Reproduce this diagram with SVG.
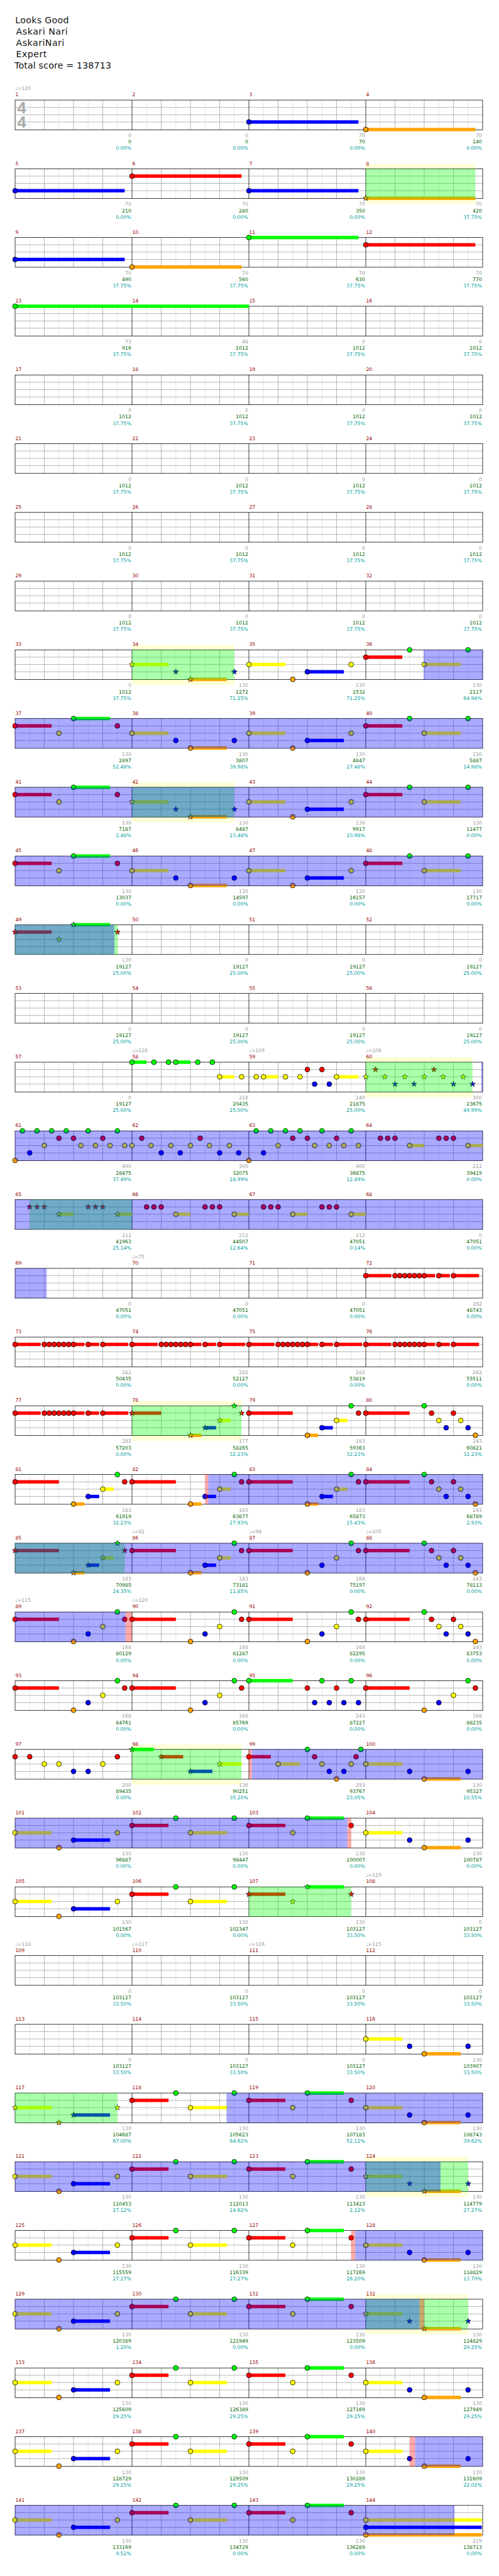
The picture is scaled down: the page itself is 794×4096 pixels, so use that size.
<svg xmlns="http://www.w3.org/2000/svg" xmlns:xlink="http://www.w3.org/1999/xlink" width="794" height="4096" viewBox="0 0 794 4096">
<style>
text{font-family:"DejaVu Sans","Liberation Sans",sans-serif}
.h{font-size:18.3px;fill:#111}
.ts{font-family:"Liberation Sans",Arial,sans-serif;font-weight:bold;font-size:33px;fill:#aaa}
.m{font-size:10px;fill:#960000}
.a,.c,.p{font-size:10px;text-anchor:end}
.a{fill:#999}.c{fill:#006400}.p{fill:#00a0a0}
.t{font-size:10px;fill:#999}
.g{fill:#0f0}.r{fill:#f00}.y{fill:#ff0}.b{fill:#00f}.o{fill:#ffa500}
circle{stroke:#000;stroke-width:1}
.ob{fill:#00f;fill-opacity:.333}
.og{fill:#0f0;fill-opacity:.333}
.op{fill:#f00;fill-opacity:.333}
.bd{fill:#ffffd5}
</style>
<defs>
<g id="grid">
<rect width="960" height="61" fill="#fff"/>
<path d="M30 0v61M90 0v61M150 0v61M210 0v61M270 0v61M330 0v61M390 0v61M450 0v61M510 0v61M570 0v61M630 0v61M690 0v61M750 0v61M810 0v61M870 0v61M930 0v61" stroke="#ddd"/>
<path d="M0 15h960M0 30h960M0 45h960M60 0v61M120 0v61M180 0v61M300 0v61M360 0v61M420 0v61M540 0v61M600 0v61M660 0v61M780 0v61M840 0v61M900 0v61" stroke="#a0a0a0"/>
<path d="M240 0v61M480 0v61M720 0v61" stroke="#000"/>
<rect width="960" height="61" fill="none" stroke="#000"/>
</g>
<path id="st" d="M0-6L1.47-2.02L5.71-1.85L2.38.77L3.53 4.85L0 2.5L-3.53 4.85L-2.38.77L-5.71-1.85L-1.47-2.02Z" stroke="#000" stroke-width=".8"/>
<g id="A"><rect class="r" y="11.5" width="75" height="7"/><rect class="g" x="120" y="-3.5" width="75" height="7"/><circle class="r" cy="15" r="5"/><circle class="y" cx="90" cy="30" r="5"/><circle class="g" cx="120" r="5"/><circle class="r" cx="210" cy="15" r="5"/></g>
<g id="As"><rect class="r" y="11.5" width="75" height="7"/><rect class="g" x="120" y="-3.5" width="75" height="7"/><use href="#st" class="r" y="15"/><use href="#st" class="y" x="90" y="30"/><use href="#st" class="g" x="120"/><use href="#st" class="r" x="210" y="15"/></g>
<g id="B"><rect class="y" y="26.5" width="75" height="7"/><rect class="o" x="120" y="57" width="75" height="7"/><circle class="y" cy="30" r="5"/><circle class="b" cx="90" cy="45" r="5"/><circle class="o" cx="120" cy="60.5" r="5"/><circle class="b" cx="210" cy="45" r="5"/></g>
<g id="Bs"><rect class="y" y="26.5" width="75" height="7"/><rect class="o" x="120" y="57" width="75" height="7"/><use href="#st" class="y" y="30"/><use href="#st" class="b" x="90" y="45"/><use href="#st" class="o" x="120" y="60.5"/><use href="#st" class="b" x="210" y="45"/></g>
<g id="C"><rect class="y" y="26.5" width="75" height="7"/><rect class="b" x="120" y="41.5" width="75" height="7"/><circle class="y" cy="30" r="5"/><circle class="o" cx="90" cy="60.5" r="5"/><circle class="b" cx="120" cy="45" r="5"/><circle class="y" cx="210" cy="30" r="5"/></g>
<g id="Cs"><rect class="y" y="26.5" width="75" height="7"/><rect class="b" x="120" y="41.5" width="75" height="7"/><use href="#st" class="y" y="30"/><use href="#st" class="o" x="90" y="60.5"/><use href="#st" class="b" x="120" y="45"/><use href="#st" class="y" x="210" y="30"/></g>
<g id="D"><rect class="r" y="11.5" width="75" height="7"/><rect class="y" x="120" y="26.5" width="75" height="7"/><circle class="r" cy="15" r="5"/><circle class="g" cx="90" r="5"/><circle class="y" cx="120" cy="30" r="5"/><circle class="g" cx="210" r="5"/></g>
<g id="E1"><circle class="r" cy="15" r="5"/><circle class="o" cx="120" cy="60.5" r="5"/><circle class="b" cx="150" cy="45" r="5"/><circle class="y" cx="180" cy="30" r="5"/><circle class="g" cx="210" r="5"/><circle class="r" cx="225" cy="15" r="5"/></g>
<g id="E2"><rect class="r" y="11.5" width="90" height="7"/><use href="#E1"/></g>
<g id="E"><rect class="r" y="11.5" width="90" height="7"/><rect class="o" x="120" y="57" width="22.5" height="7"/><rect class="b" x="150" y="41.5" width="22.5" height="7"/><rect class="y" x="180" y="26.5" width="22.5" height="7"/><use href="#E1"/></g>
<g id="Es"><rect class="r" y="11.5" width="90" height="7"/><rect class="o" x="120" y="57" width="22.5" height="7"/><rect class="b" x="150" y="41.5" width="22.5" height="7"/><rect class="y" x="180" y="26.5" width="22.5" height="7"/><use href="#st" class="r" y="15"/><use href="#st" class="o" x="120" y="60.5"/><use href="#st" class="b" x="150" y="45"/><use href="#st" class="y" x="180" y="30"/><use href="#st" class="g" x="210"/><use href="#st" class="r" x="225" y="15"/></g>
<g id="F"><rect class="r" y="11.5" width="90" height="7"/><circle class="r" cy="15" r="5"/><circle class="g" cx="120" r="5"/><circle class="r" cx="135" cy="15" r="5"/><circle class="y" cx="150" cy="30" r="5"/><circle class="b" cx="165" cy="45" r="5"/><circle class="r" cx="180" cy="15" r="5"/><circle class="y" cx="195" cy="30" r="5"/><circle class="b" cx="210" cy="45" r="5"/><circle class="o" cx="225" cy="60.5" r="5"/></g>
<g id="T"><rect class="r" y="11.5" width="52.5" height="7"/><rect class="r" x="120" y="11.5" width="22.5" height="7"/><rect class="r" x="150" y="11.5" width="22.5" height="7"/><rect class="r" x="180" y="11.5" width="52.5" height="7"/><circle class="r" cy="15" r="5"/><circle class="r" cx="60" cy="15" r="5"/><circle class="r" cx="70" cy="15" r="5"/><circle class="r" cx="80" cy="15" r="5"/><circle class="r" cx="90" cy="15" r="5"/><circle class="r" cx="100" cy="15" r="5"/><circle class="r" cx="110" cy="15" r="5"/><circle class="r" cx="120" cy="15" r="5"/><circle class="r" cx="150" cy="15" r="5"/><circle class="r" cx="180" cy="15" r="5"/></g>
<g id="G"><circle class="o" cy="60.5" r="5"/><circle class="g" cx="15" r="5"/><circle class="g" cx="45" r="5"/><circle class="g" cx="75" r="5"/><circle class="g" cx="105" r="5"/><circle class="g" cx="150" r="5"/><circle class="g" cx="210" r="5"/><circle class="r" cx="90" cy="15" r="5"/><circle class="r" cx="120" cy="15" r="5"/><circle class="r" cx="180" cy="15" r="5"/><circle class="y" cx="60" cy="30" r="5"/><circle class="y" cx="135" cy="30" r="5"/><circle class="y" cx="165" cy="30" r="5"/><circle class="y" cx="195" cy="30" r="5"/><circle class="y" cx="225" cy="30" r="5"/><circle class="b" cx="30" cy="45" r="5"/></g>
<g id="H"><rect class="y" x="90" y="26.5" width="30" height="7"/><rect class="y" x="210" y="26.5" width="30" height="7"/><circle class="r" cx="30" cy="15" r="5"/><circle class="r" cx="45" cy="15" r="5"/><circle class="r" cx="60" cy="15" r="5"/><circle class="r" cx="150" cy="15" r="5"/><circle class="r" cx="165" cy="15" r="5"/><circle class="r" cx="180" cy="15" r="5"/><circle class="y" cx="90" cy="30" r="5"/><circle class="y" cx="210" cy="30" r="5"/></g>
</defs>
<g transform="scale(0.775)">
<rect width="1024" height="5281" fill="#fff"/>
<g id="header">
<text class="h" x="31.3" y="48.3" textLength="110">Looks Good</text>
<text class="h" x="33" y="71" textLength="106">Askari Nari</text>
<text class="h" x="33" y="94.3" textLength="99">AskariNari</text>
<text class="h" x="33" y="117.7" textLength="63">Expert</text>
<text class="h" x="29.7" y="140.7" textLength="198.6">Total score = 138713</text>
</g>

<g id="row1" transform="translate(31,205.3)"><use href="#grid"/><text class="ts" x="4.5" y="27">4</text><text class="ts" x="4.5" y="57">4</text>
<rect class="b" x="480" y="41.5" width="225" height="7"/><rect class="o" x="720" y="57" width="225" height="7"/><circle class="b" cx="480" cy="45" r="5"/><circle class="o" cx="720" cy="60.5" r="5"/>
<text class="t" y="-20.6">♩=120</text>
<text class="m" y="-7.6"><tspan x=".5">1</tspan><tspan x="240.5">2</tspan><tspan x="480.5">3</tspan><tspan x="720.5">4</tspan></text>
<text class="a" y="76.2"><tspan x="238.5">0</tspan><tspan x="478.5">0</tspan><tspan x="718.5">70</tspan><tspan x="958.5">70</tspan></text>
<text class="c" y="89.4"><tspan x="238.5">0</tspan><tspan x="478.5">0</tspan><tspan x="718.5">70</tspan><tspan x="958.5">140</tspan></text>
<text class="p" y="102.4"><tspan x="238.5">0.00%</tspan><tspan x="478.5">0.00%</tspan><tspan x="718.5">0.00%</tspan><tspan x="958.5">0.00%</tspan></text></g>

<g id="row2" transform="translate(31,346.3)"><rect class="bd" x="720" y="-10" width="225" height="82"/><use href="#grid"/>
<rect class="b" y="41.5" width="225" height="7"/><rect class="r" x="240" y="11.5" width="225" height="7"/><rect class="b" x="480" y="41.5" width="225" height="7"/><rect class="o" x="720" y="57" width="225" height="7"/>
<circle class="b" cy="45" r="5"/><circle class="r" cx="240" cy="15" r="5"/><circle class="b" cx="480" cy="45" r="5"/><use href="#st" class="o" x="720" y="60.5"/>
<rect class="og" x="720" width="225" height="61"/>
<text class="m" y="-7.6"><tspan x=".5">5</tspan><tspan x="240.5">6</tspan><tspan x="480.5">7</tspan><tspan x="720.5">8</tspan></text>
<text class="a" y="76.2"><tspan x="238.5">70</tspan><tspan x="478.5">70</tspan><tspan x="718.5">70</tspan><tspan x="958.5">70</tspan></text>
<text class="c" y="89.4"><tspan x="238.5">210</tspan><tspan x="478.5">280</tspan><tspan x="718.5">350</tspan><tspan x="958.5">420</tspan></text>
<text class="p" y="102.4"><tspan x="238.5">0.00%</tspan><tspan x="478.5">0.00%</tspan><tspan x="718.5">0.00%</tspan><tspan x="958.5">37.75%</tspan></text></g>

<g id="row3" transform="translate(31,487.3)"><use href="#grid"/>
<rect class="b" y="41.5" width="225" height="7"/><rect class="o" x="240" y="57" width="225" height="7"/><rect class="g" x="480" y="-3.5" width="225" height="7"/><rect class="r" x="720" y="11.5" width="225" height="7"/>
<circle class="b" cy="45" r="5"/><circle class="o" cx="240" cy="60.5" r="5"/><circle class="g" cx="480" r="5"/><circle class="r" cx="720" cy="15" r="5"/>
<text class="m" y="-7.6"><tspan x=".5">9</tspan><tspan x="240.5">10</tspan><tspan x="480.5">11</tspan><tspan x="720.5">12</tspan></text>
<text class="a" y="76.2"><tspan x="238.5">70</tspan><tspan x="478.5">70</tspan><tspan x="718.5">70</tspan><tspan x="958.5">70</tspan></text>
<text class="c" y="89.4"><tspan x="238.5">490</tspan><tspan x="478.5">560</tspan><tspan x="718.5">630</tspan><tspan x="958.5">770</tspan></text>
<text class="p" y="102.4"><tspan x="238.5">37.75%</tspan><tspan x="478.5">37.75%</tspan><tspan x="718.5">37.75%</tspan><tspan x="958.5">37.75%</tspan></text></g>

<g id="row4" transform="translate(31,628.3)"><use href="#grid"/>
<rect class="g" y="-3.5" width="480" height="7"/><circle class="g" r="5"/>
<text class="m" y="-7.6"><tspan x=".5">13</tspan><tspan x="240.5">14</tspan><tspan x="480.5">15</tspan><tspan x="720.5">16</tspan></text>
<text class="a" y="76.2"><tspan x="238.5">73</tspan><tspan x="478.5">48</tspan><tspan x="718.5">0</tspan><tspan x="958.5">0</tspan></text>
<text class="c" y="89.4"><tspan x="238.5">916</tspan><tspan x="478.5">1012</tspan><tspan x="718.5">1012</tspan><tspan x="958.5">1012</tspan></text>
<text class="p" y="102.4"><tspan x="238.5">37.75%</tspan><tspan x="478.5">37.75%</tspan><tspan x="718.5">37.75%</tspan><tspan x="958.5">37.75%</tspan></text></g>

<g id="row5" transform="translate(31,769.3)"><use href="#grid"/>
<text class="m" y="-7.6"><tspan x=".5">17</tspan><tspan x="240.5">18</tspan><tspan x="480.5">19</tspan><tspan x="720.5">20</tspan></text>
<text class="a" y="76.2"><tspan x="238.5">0</tspan><tspan x="478.5">0</tspan><tspan x="718.5">0</tspan><tspan x="958.5">0</tspan></text>
<text class="c" y="89.4"><tspan x="238.5">1012</tspan><tspan x="478.5">1012</tspan><tspan x="718.5">1012</tspan><tspan x="958.5">1012</tspan></text>
<text class="p" y="102.4"><tspan x="238.5">37.75%</tspan><tspan x="478.5">37.75%</tspan><tspan x="718.5">37.75%</tspan><tspan x="958.5">37.75%</tspan></text></g>

<g id="row6" transform="translate(31,910.3)"><use href="#grid"/>
<text class="m" y="-7.6"><tspan x=".5">21</tspan><tspan x="240.5">22</tspan><tspan x="480.5">23</tspan><tspan x="720.5">24</tspan></text>
<text class="a" y="76.2"><tspan x="238.5">0</tspan><tspan x="478.5">0</tspan><tspan x="718.5">0</tspan><tspan x="958.5">0</tspan></text>
<text class="c" y="89.4"><tspan x="238.5">1012</tspan><tspan x="478.5">1012</tspan><tspan x="718.5">1012</tspan><tspan x="958.5">1012</tspan></text>
<text class="p" y="102.4"><tspan x="238.5">37.75%</tspan><tspan x="478.5">37.75%</tspan><tspan x="718.5">37.75%</tspan><tspan x="958.5">37.75%</tspan></text></g>

<g id="row7" transform="translate(31,1051.3)"><use href="#grid"/>
<text class="m" y="-7.6"><tspan x=".5">25</tspan><tspan x="240.5">26</tspan><tspan x="480.5">27</tspan><tspan x="720.5">28</tspan></text>
<text class="a" y="76.2"><tspan x="238.5">0</tspan><tspan x="478.5">0</tspan><tspan x="718.5">0</tspan><tspan x="958.5">0</tspan></text>
<text class="c" y="89.4"><tspan x="238.5">1012</tspan><tspan x="478.5">1012</tspan><tspan x="718.5">1012</tspan><tspan x="958.5">1012</tspan></text>
<text class="p" y="102.4"><tspan x="238.5">37.75%</tspan><tspan x="478.5">37.75%</tspan><tspan x="718.5">37.75%</tspan><tspan x="958.5">37.75%</tspan></text></g>

<g id="row8" transform="translate(31,1192.3)"><use href="#grid"/>
<text class="m" y="-7.6"><tspan x=".5">29</tspan><tspan x="240.5">30</tspan><tspan x="480.5">31</tspan><tspan x="720.5">32</tspan></text>
<text class="a" y="76.2"><tspan x="238.5">0</tspan><tspan x="478.5">0</tspan><tspan x="718.5">0</tspan><tspan x="958.5">0</tspan></text>
<text class="c" y="89.4"><tspan x="238.5">1012</tspan><tspan x="478.5">1012</tspan><tspan x="718.5">1012</tspan><tspan x="958.5">1012</tspan></text>
<text class="p" y="102.4"><tspan x="238.5">37.75%</tspan><tspan x="478.5">37.75%</tspan><tspan x="718.5">37.75%</tspan><tspan x="958.5">37.75%</tspan></text></g>

<g id="row9" transform="translate(31,1333.3)"><rect class="bd" x="240" y="-10" width="210" height="82"/><use href="#grid"/>
<use href="#Bs" x="240"/><use href="#C" x="480"/><use href="#D" x="720"/>
<rect class="og" x="240" width="210" height="61"/><rect class="ob" x="838.8" width="121.2" height="61"/>
<text class="m" y="-7.6"><tspan x=".5">33</tspan><tspan x="240.5">34</tspan><tspan x="480.5">35</tspan><tspan x="720.5">36</tspan></text>
<text class="a" y="76.2"><tspan x="238.5">0</tspan><tspan x="478.5">130</tspan><tspan x="718.5">130</tspan><tspan x="958.5">130</tspan></text>
<text class="c" y="89.4"><tspan x="238.5">1012</tspan><tspan x="478.5">1272</tspan><tspan x="718.5">1532</tspan><tspan x="958.5">2117</tspan></text>
<text class="p" y="102.4"><tspan x="238.5">37.75%</tspan><tspan x="478.5">71.25%</tspan><tspan x="718.5">71.25%</tspan><tspan x="958.5">64.98%</tspan></text></g>

<g id="row10" transform="translate(31,1474.3)"><use href="#grid"/>
<use href="#A"/><use href="#B" x="240"/><use href="#C" x="480"/><use href="#D" x="720"/>
<rect class="ob" width="960" height="61"/>
<text class="m" y="-7.6"><tspan x=".5">37</tspan><tspan x="240.5">38</tspan><tspan x="480.5">39</tspan><tspan x="720.5">40</tspan></text>
<text class="a" y="76.2"><tspan x="238.5">130</tspan><tspan x="478.5">130</tspan><tspan x="718.5">130</tspan><tspan x="958.5">130</tspan></text>
<text class="c" y="89.4"><tspan x="238.5">2897</tspan><tspan x="478.5">3807</tspan><tspan x="718.5">4847</tspan><tspan x="958.5">5887</tspan></text>
<text class="p" y="102.4"><tspan x="238.5">52.48%</tspan><tspan x="478.5">39.98%</tspan><tspan x="718.5">27.48%</tspan><tspan x="958.5">14.98%</tspan></text></g>

<g id="row11" transform="translate(31,1615.3)"><rect class="bd" x="240" y="-10" width="210" height="82"/><use href="#grid"/>
<use href="#A"/><use href="#Bs" x="240"/><use href="#C" x="480"/><use href="#D" x="720"/>
<rect class="og" x="240" width="210" height="61"/><rect class="ob" width="960" height="61"/>
<text class="m" y="-7.6"><tspan x=".5">41</tspan><tspan x="240.5">42</tspan><tspan x="480.5">43</tspan><tspan x="720.5">44</tspan></text>
<text class="a" y="76.2"><tspan x="238.5">130</tspan><tspan x="478.5">130</tspan><tspan x="718.5">130</tspan><tspan x="958.5">130</tspan></text>
<text class="c" y="89.4"><tspan x="238.5">7187</tspan><tspan x="478.5">8487</tspan><tspan x="718.5">9917</tspan><tspan x="958.5">11477</tspan></text>
<text class="p" y="102.4"><tspan x="238.5">2.48%</tspan><tspan x="478.5">23.48%</tspan><tspan x="718.5">10.98%</tspan><tspan x="958.5">0.00%</tspan></text></g>

<g id="row12" transform="translate(31,1756.3)"><use href="#grid"/>
<use href="#A"/><use href="#B" x="240"/><use href="#C" x="480"/><use href="#D" x="720"/>
<rect class="ob" width="960" height="61"/>
<text class="m" y="-7.6"><tspan x=".5">45</tspan><tspan x="240.5">46</tspan><tspan x="480.5">47</tspan><tspan x="720.5">48</tspan></text>
<text class="a" y="76.2"><tspan x="238.5">130</tspan><tspan x="478.5">130</tspan><tspan x="718.5">130</tspan><tspan x="958.5">130</tspan></text>
<text class="c" y="89.4"><tspan x="238.5">13037</tspan><tspan x="478.5">14597</tspan><tspan x="718.5">16157</tspan><tspan x="958.5">17717</tspan></text>
<text class="p" y="102.4"><tspan x="238.5">0.00%</tspan><tspan x="478.5">0.00%</tspan><tspan x="718.5">0.00%</tspan><tspan x="958.5">0.00%</tspan></text></g>

<g id="row13" transform="translate(31,1897.3)"><use href="#grid"/>
<use href="#As"/>
<rect class="og" width="210.6" height="61"/><rect class="ob" width="204" height="61"/>
<text class="m" y="-7.6"><tspan x=".5">49</tspan><tspan x="240.5">50</tspan><tspan x="480.5">51</tspan><tspan x="720.5">52</tspan></text>
<text class="a" y="76.2"><tspan x="238.5">130</tspan><tspan x="478.5">0</tspan><tspan x="718.5">0</tspan><tspan x="958.5">0</tspan></text>
<text class="c" y="89.4"><tspan x="238.5">19127</tspan><tspan x="478.5">19127</tspan><tspan x="718.5">19127</tspan><tspan x="958.5">19127</tspan></text>
<text class="p" y="102.4"><tspan x="238.5">25.00%</tspan><tspan x="478.5">25.00%</tspan><tspan x="718.5">25.00%</tspan><tspan x="958.5">25.00%</tspan></text></g>

<g id="row14" transform="translate(31,2038.3)"><use href="#grid"/>
<text class="m" y="-7.6"><tspan x=".5">53</tspan><tspan x="240.5">54</tspan><tspan x="480.5">55</tspan><tspan x="720.5">56</tspan></text>
<text class="a" y="76.2"><tspan x="238.5">0</tspan><tspan x="478.5">0</tspan><tspan x="718.5">0</tspan><tspan x="958.5">0</tspan></text>
<text class="c" y="89.4"><tspan x="238.5">19127</tspan><tspan x="478.5">19127</tspan><tspan x="718.5">19127</tspan><tspan x="958.5">19127</tspan></text>
<text class="p" y="102.4"><tspan x="238.5">25.00%</tspan><tspan x="478.5">25.00%</tspan><tspan x="718.5">25.00%</tspan><tspan x="958.5">25.00%</tspan></text></g>

<g id="row15" transform="translate(31,2179.3)"><rect class="bd" x="720" y="-10" width="219" height="82"/><use href="#grid"/>
<rect class="g" x="240" y="-3.5" width="30" height="7"/><rect class="g" x="330" y="-3.5" width="30" height="7"/><rect class="y" x="420" y="26.5" width="30" height="7"/><rect class="y" x="510" y="26.5" width="30" height="7"/><rect class="y" x="660" y="26.5" width="45" height="7"/>
<circle class="g" cx="240" r="5"/><circle class="g" cx="285" r="5"/><circle class="g" cx="315" r="5"/><circle class="g" cx="330" r="5"/><circle class="g" cx="375" r="5"/><circle class="g" cx="405" r="5"/>
<circle class="y" cx="420" cy="30" r="5"/><circle class="y" cx="465" cy="30" r="5"/><circle class="y" cx="495" cy="30" r="5"/><circle class="y" cx="510" cy="30" r="5"/><circle class="y" cx="555" cy="30" r="5"/><circle class="y" cx="585" cy="30" r="5"/><circle class="y" cx="660" cy="30" r="5"/>
<circle class="r" cx="600" cy="15" r="5"/><circle class="r" cx="630" cy="15" r="5"/><circle class="b" cx="615" cy="45" r="5"/><circle class="b" cx="645" cy="45" r="5"/>
<use href="#st" class="y" x="720" y="30"/><use href="#st" class="r" x="740" y="15"/><use href="#st" class="y" x="759" y="30"/><use href="#st" class="b" x="780" y="45"/><use href="#st" class="y" x="800" y="30"/><use href="#st" class="b" x="819" y="45"/><use href="#st" class="y" x="840" y="30"/><use href="#st" class="r" x="860" y="15"/><use href="#st" class="y" x="879" y="30"/><use href="#st" class="b" x="900" y="45"/><use href="#st" class="y" x="920" y="30"/><use href="#st" class="b" x="939" y="45"/>
<rect class="og" x="720" width="219" height="61"/><rect class="ob" x="957" width="3" height="61"/>
<text class="t" y="-20.6"><tspan x="240">♩=116</tspan><tspan x="480">♩=109</tspan><tspan x="720">♩=106</tspan></text>
<text class="m" y="-7.6"><tspan x=".5">57</tspan><tspan x="240.5">58</tspan><tspan x="480.5">59</tspan><tspan x="720.5">60</tspan></text>
<text class="a" y="76.2"><tspan x="238.5">0</tspan><tspan x="478.5">218</tspan><tspan x="718.5">240</tspan><tspan x="958.5">300</tspan></text>
<text class="c" y="89.4"><tspan x="238.5">19127</tspan><tspan x="478.5">20435</tspan><tspan x="718.5">21875</tspan><tspan x="958.5">23675</tspan></text>
<text class="p" y="102.4"><tspan x="238.5">25.00%</tspan><tspan x="478.5">25.00%</tspan><tspan x="718.5">25.00%</tspan><tspan x="958.5">49.99%</tspan></text></g>

<g id="row16" transform="translate(31,2320.3)"><use href="#grid"/>
<use href="#G"/><use href="#G" x="480"/>
<circle class="y" cx="240" cy="30" r="5"/><circle class="r" cx="260" cy="15" r="5"/><circle class="y" cx="279" cy="30" r="5"/><circle class="b" cx="300" cy="45" r="5"/><circle class="y" cx="320" cy="30" r="5"/><circle class="b" cx="339" cy="45" r="5"/><circle class="y" cx="360" cy="30" r="5"/><circle class="r" cx="380" cy="15" r="5"/><circle class="y" cx="399" cy="30" r="5"/><circle class="b" cx="420" cy="45" r="5"/><circle class="y" cx="440" cy="30" r="5"/><circle class="b" cx="459" cy="45" r="5"/>
<rect class="y" x="810" y="26.5" width="30" height="7"/><rect class="y" x="930" y="26.5" width="30" height="7"/>
<circle class="r" cx="750" cy="15" r="5"/><circle class="r" cx="765" cy="15" r="5"/><circle class="r" cx="780" cy="15" r="5"/><circle class="r" cx="870" cy="15" r="5"/><circle class="r" cx="885" cy="15" r="5"/><circle class="r" cx="900" cy="15" r="5"/><circle class="y" cx="810" cy="30" r="5"/><circle class="y" cx="930" cy="30" r="5"/>
<rect class="ob" width="960" height="61"/>
<text class="m" y="-7.6"><tspan x=".5">61</tspan><tspan x="240.5">62</tspan><tspan x="480.5">63</tspan><tspan x="720.5">64</tspan></text>
<text class="a" y="76.2"><tspan x="238.5">400</tspan><tspan x="478.5">300</tspan><tspan x="718.5">400</tspan><tspan x="958.5">212</tspan></text>
<text class="c" y="89.4"><tspan x="238.5">28475</tspan><tspan x="478.5">32075</tspan><tspan x="718.5">36875</tspan><tspan x="958.5">39419</tspan></text>
<text class="p" y="102.4"><tspan x="238.5">37.49%</tspan><tspan x="478.5">24.99%</tspan><tspan x="718.5">12.49%</tspan><tspan x="958.5">0.00%</tspan></text></g>

<g id="row17" transform="translate(31,2461.3)"><use href="#grid"/>
<rect class="y" x="90" y="26.5" width="30" height="7"/><rect class="y" x="210" y="26.5" width="30" height="7"/>
<use href="#st" class="r" x="30" y="15"/><use href="#st" class="r" x="45" y="15"/><use href="#st" class="r" x="60" y="15"/><use href="#st" class="y" x="90" y="30"/><use href="#st" class="r" x="150" y="15"/><use href="#st" class="r" x="165" y="15"/><use href="#st" class="r" x="180" y="15"/><use href="#st" class="y" x="210" y="30"/>
<use href="#H" x="240"/><use href="#H" x="480"/>
<rect class="og" x="30" width="210" height="61"/><rect class="ob" width="960" height="61"/>
<text class="m" y="-7.6"><tspan x=".5">65</tspan><tspan x="240.5">66</tspan><tspan x="480.5">67</tspan><tspan x="720.5">68</tspan></text>
<text class="a" y="76.2"><tspan x="238.5">212</tspan><tspan x="478.5">212</tspan><tspan x="718.5">212</tspan><tspan x="958.5">0</tspan></text>
<text class="c" y="89.4"><tspan x="238.5">41963</tspan><tspan x="478.5">44507</tspan><tspan x="718.5">47051</tspan><tspan x="958.5">47051</tspan></text>
<text class="p" y="102.4"><tspan x="238.5">25.14%</tspan><tspan x="478.5">12.64%</tspan><tspan x="718.5">0.14%</tspan><tspan x="958.5">0.00%</tspan></text></g>

<g id="row18" transform="translate(31,2602.3)"><use href="#grid"/>
<use href="#T" x="720"/>
<rect class="ob" width="65" height="61"/>
<text class="t" y="-20.6"><tspan x="240">♩=75</tspan></text>
<text class="m" y="-7.6"><tspan x=".5">69</tspan><tspan x="240.5">70</tspan><tspan x="480.5">71</tspan><tspan x="720.5">72</tspan></text>
<text class="a" y="76.2"><tspan x="238.5">0</tspan><tspan x="478.5">0</tspan><tspan x="718.5">0</tspan><tspan x="958.5">282</tspan></text>
<text class="c" y="89.4"><tspan x="238.5">47051</tspan><tspan x="478.5">47051</tspan><tspan x="718.5">47051</tspan><tspan x="958.5">48743</tspan></text>
<text class="p" y="102.4"><tspan x="238.5">0.00%</tspan><tspan x="478.5">0.00%</tspan><tspan x="718.5">0.00%</tspan><tspan x="958.5">0.00%</tspan></text></g>

<g id="row19" transform="translate(31,2743.3)"><use href="#grid"/>
<use href="#T"/><use href="#T" x="240"/><use href="#T" x="480"/><use href="#T" x="720"/>
<text class="m" y="-7.6"><tspan x=".5">73</tspan><tspan x="240.5">74</tspan><tspan x="480.5">75</tspan><tspan x="720.5">76</tspan></text>
<text class="a" y="76.2"><tspan x="238.5">282</tspan><tspan x="478.5">282</tspan><tspan x="718.5">282</tspan><tspan x="958.5">282</tspan></text>
<text class="c" y="89.4"><tspan x="238.5">50435</tspan><tspan x="478.5">52127</tspan><tspan x="718.5">53819</tspan><tspan x="958.5">55511</tspan></text>
<text class="p" y="102.4"><tspan x="238.5">0.00%</tspan><tspan x="478.5">0.00%</tspan><tspan x="718.5">0.00%</tspan><tspan x="958.5">0.00%</tspan></text></g>

<g id="row20" transform="translate(31,2884.3)"><rect class="bd" x="240" y="-10" width="225" height="82"/><use href="#grid"/>
<use href="#T"/>
<rect class="r" x="240" y="11.5" width="60" height="7"/><rect class="o" x="360" y="57" width="22.5" height="7"/><rect class="b" x="390" y="41.5" width="22.5" height="7"/><rect class="y" x="420" y="26.5" width="22.5" height="7"/>
<use href="#st" class="r" x="240" y="15"/><use href="#st" class="o" x="360" y="60.5"/><use href="#st" class="b" x="390" y="45"/><use href="#st" class="y" x="420" y="30"/><use href="#st" class="g" x="450"/><use href="#st" class="r" x="465" y="15"/>
<use href="#E" x="480"/><use href="#F" x="720"/>
<rect class="og" x="240" width="225" height="61"/>
<text class="m" y="-7.6"><tspan x=".5">77</tspan><tspan x="240.5">78</tspan><tspan x="480.5">79</tspan><tspan x="720.5">80</tspan></text>
<text class="a" y="76.2"><tspan x="238.5">282</tspan><tspan x="478.5">177</tspan><tspan x="718.5">183</tspan><tspan x="958.5">243</tspan></text>
<text class="c" y="89.4"><tspan x="238.5">57203</tspan><tspan x="478.5">58265</tspan><tspan x="718.5">59363</tspan><tspan x="958.5">60821</tspan></text>
<text class="p" y="102.4"><tspan x="238.5">0.00%</tspan><tspan x="478.5">32.23%</tspan><tspan x="718.5">32.23%</tspan><tspan x="958.5">32.23%</tspan></text></g>

<g id="row21" transform="translate(31,3025.3)"><use href="#grid"/>
<use href="#E"/><use href="#E" x="240"/><use href="#E" x="480"/><use href="#F" x="720"/>
<rect class="op" x="390" width="6.6" height="61"/><rect class="ob" x="396.6" width="563.4" height="61"/>
<text class="m" y="-7.6"><tspan x=".5">81</tspan><tspan x="240.5">82</tspan><tspan x="480.5">83</tspan><tspan x="720.5">84</tspan></text>
<text class="a" y="76.2"><tspan x="238.5">183</tspan><tspan x="478.5">183</tspan><tspan x="718.5">183</tspan><tspan x="958.5">243</tspan></text>
<text class="c" y="89.4"><tspan x="238.5">61919</tspan><tspan x="478.5">63677</tspan><tspan x="718.5">65873</tspan><tspan x="958.5">68789</tspan></text>
<text class="p" y="102.4"><tspan x="238.5">32.23%</tspan><tspan x="478.5">27.93%</tspan><tspan x="718.5">15.43%</tspan><tspan x="958.5">2.93%</tspan></text></g>

<g id="row22" transform="translate(31,3166.3)"><use href="#grid"/>
<use href="#Es"/><use href="#E" x="240"/><use href="#E2" x="480"/><use href="#F" x="720"/>
<rect class="og" width="225" height="61"/><rect class="ob" width="960" height="61"/>
<text class="t" y="-20.6"><tspan x="240">♩=82</tspan><tspan x="480">♩=94</tspan><tspan x="720">♩=105</tspan></text>
<text class="m" y="-7.6"><tspan x=".5">85</tspan><tspan x="240.5">86</tspan><tspan x="480.5">87</tspan><tspan x="720.5">88</tspan></text>
<text class="a" y="76.2"><tspan x="238.5">183</tspan><tspan x="478.5">183</tspan><tspan x="718.5">168</tspan><tspan x="958.5">243</tspan></text>
<text class="c" y="89.4"><tspan x="238.5">70985</tspan><tspan x="478.5">73181</tspan><tspan x="718.5">75197</tspan><tspan x="958.5">78113</tspan></text>
<text class="p" y="102.4"><tspan x="238.5">24.35%</tspan><tspan x="478.5">11.85%</tspan><tspan x="718.5">0.00%</tspan><tspan x="958.5">0.00%</tspan></text></g>

<g id="row23" transform="translate(31,3307.3)"><use href="#grid"/>
<use href="#E2"/><use href="#E2" x="240"/><use href="#E2" x="480"/><use href="#F" x="720"/>
<rect class="ob" width="226.8" height="61"/><rect class="op" x="226.8" width="13.2" height="61"/>
<text class="t" y="-20.6"><tspan x="0">♩=115</tspan><tspan x="240">♩=120</tspan></text>
<text class="m" y="-7.6"><tspan x=".5">89</tspan><tspan x="240.5">90</tspan><tspan x="480.5">91</tspan><tspan x="720.5">92</tspan></text>
<text class="a" y="76.2"><tspan x="238.5">168</tspan><tspan x="478.5">168</tspan><tspan x="718.5">168</tspan><tspan x="958.5">243</tspan></text>
<text class="c" y="89.4"><tspan x="238.5">80129</tspan><tspan x="478.5">81287</tspan><tspan x="718.5">82295</tspan><tspan x="958.5">83753</tspan></text>
<text class="p" y="102.4"><tspan x="238.5">0.00%</tspan><tspan x="478.5">0.00%</tspan><tspan x="718.5">0.00%</tspan><tspan x="958.5">0.00%</tspan></text></g>

<g id="row24" transform="translate(31,3448.3)"><use href="#grid"/>
<use href="#E2"/><use href="#E2" x="240"/>
<rect class="g" x="480" y="-3.5" width="90" height="7"/><circle class="g" cx="480" r="5"/><circle class="r" cx="600" cy="15" r="5"/><circle class="b" cx="615" cy="45" r="5"/><circle class="g" cx="630" r="5"/><circle class="b" cx="645" cy="45" r="5"/><circle class="r" cx="660" cy="15" r="5"/><circle class="b" cx="675" cy="45" r="5"/><circle class="g" cx="690" r="5"/><circle class="b" cx="705" cy="45" r="5"/>
<rect class="r" x="720" y="11.5" width="90" height="7"/><circle class="r" cx="720" cy="15" r="5"/><circle class="o" cx="840" cy="60.5" r="5"/><circle class="b" cx="870" cy="45" r="5"/><circle class="y" cx="900" cy="30" r="5"/><circle class="g" cx="930" r="5"/><circle class="r" cx="945" cy="15" r="5"/>
<text class="m" y="-7.6"><tspan x=".5">93</tspan><tspan x="240.5">94</tspan><tspan x="480.5">95</tspan><tspan x="720.5">96</tspan></text>
<text class="a" y="76.2"><tspan x="238.5">168</tspan><tspan x="478.5">168</tspan><tspan x="718.5">243</tspan><tspan x="958.5">168</tspan></text>
<text class="c" y="89.4"><tspan x="238.5">84761</tspan><tspan x="478.5">85769</tspan><tspan x="718.5">87227</tspan><tspan x="958.5">88235</tspan></text>
<text class="p" y="102.4"><tspan x="238.5">0.00%</tspan><tspan x="478.5">0.00%</tspan><tspan x="718.5">0.00%</tspan><tspan x="958.5">0.00%</tspan></text></g>

<g id="row25" transform="translate(31,3589.3)"><rect class="bd" x="240" y="-10" width="225" height="82"/><use href="#grid"/>
<circle class="r" cy="15" r="5"/><circle class="r" cx="30" cy="15" r="5"/><circle class="y" cx="60" cy="30" r="5"/><circle class="y" cx="90" cy="30" r="5"/><circle class="b" cx="120" cy="45" r="5"/><circle class="b" cx="150" cy="45" r="5"/><circle class="y" cx="180" cy="30" r="5"/><circle class="r" cx="210" cy="15" r="5"/>
<rect class="g" x="240" y="-3.5" width="45" height="7"/><rect class="r" x="300" y="11.5" width="45" height="7"/><rect class="b" x="360" y="41.5" width="45" height="7"/><rect class="y" x="420" y="26.5" width="45" height="7"/>
<use href="#st" class="g" x="240"/><use href="#st" class="r" x="300" y="15"/><use href="#st" class="b" x="360" y="45"/><use href="#st" class="y" x="420" y="30"/>
<rect class="r" x="480" y="11.5" width="45" height="7"/><rect class="y" x="540" y="26.5" width="45" height="7"/>
<circle class="r" cx="480" cy="15" r="5"/><circle class="y" cx="540" cy="30" r="5"/><circle class="g" cx="600" r="5"/><circle class="r" cx="615" cy="15" r="5"/><circle class="y" cx="630" cy="30" r="5"/><circle class="b" cx="645" cy="45" r="5"/><circle class="o" cx="660" cy="60.5" r="5"/><circle class="b" cx="675" cy="45" r="5"/><circle class="y" cx="690" cy="30" r="5"/><circle class="r" cx="700" cy="15" r="5"/><circle class="g" cx="710" r="5"/>
<use href="#B" x="720"/>
<rect class="og" x="240" width="225" height="61"/><rect class="op" x="480" width="6" height="61"/><rect class="ob" x="486" width="474" height="61"/>
<text class="m" y="-7.6"><tspan x=".5">97</tspan><tspan x="240.5">98</tspan><tspan x="480.5">99</tspan><tspan x="720.5">100</tspan></text>
<text class="a" y="76.2"><tspan x="238.5">200</tspan><tspan x="478.5">136</tspan><tspan x="718.5">293</tspan><tspan x="958.5">130</tspan></text>
<text class="c" y="89.4"><tspan x="238.5">89435</tspan><tspan x="478.5">90251</tspan><tspan x="718.5">93767</tspan><tspan x="958.5">95327</tspan></text>
<text class="p" y="102.4"><tspan x="238.5">0.00%</tspan><tspan x="478.5">35.20%</tspan><tspan x="718.5">23.05%</tspan><tspan x="958.5">10.55%</tspan></text></g>

<g id="row26" transform="translate(31,3730.3)"><use href="#grid"/>
<use href="#C"/><use href="#D" x="240"/><use href="#A" x="480"/><use href="#B" x="720"/>
<rect class="ob" width="682.2" height="61"/><rect class="op" x="682.2" width="7.8" height="61"/>
<text class="m" y="-7.6"><tspan x=".5">101</tspan><tspan x="240.5">102</tspan><tspan x="480.5">103</tspan><tspan x="720.5">104</tspan></text>
<text class="a" y="76.2"><tspan x="238.5">130</tspan><tspan x="478.5">130</tspan><tspan x="718.5">130</tspan><tspan x="958.5">130</tspan></text>
<text class="c" y="89.4"><tspan x="238.5">96887</tspan><tspan x="478.5">98447</tspan><tspan x="718.5">100007</tspan><tspan x="958.5">100787</tspan></text>
<text class="p" y="102.4"><tspan x="238.5">0.00%</tspan><tspan x="478.5">0.00%</tspan><tspan x="718.5">0.00%</tspan><tspan x="958.5">0.00%</tspan></text></g>

<g id="row27" transform="translate(31,3871.3)"><use href="#grid"/>
<use href="#C"/><use href="#D" x="240"/><use href="#As" x="480"/>
<rect class="og" x="480" width="210" height="61"/>
<text class="t" y="-20.6"><tspan x="720">♩=119</tspan></text>
<text class="m" y="-7.6"><tspan x=".5">105</tspan><tspan x="240.5">106</tspan><tspan x="480.5">107</tspan><tspan x="720.5">108</tspan></text>
<text class="a" y="76.2"><tspan x="238.5">130</tspan><tspan x="478.5">130</tspan><tspan x="718.5">130</tspan><tspan x="958.5">0</tspan></text>
<text class="c" y="89.4"><tspan x="238.5">101567</tspan><tspan x="478.5">102347</tspan><tspan x="718.5">103127</tspan><tspan x="958.5">103127</tspan></text>
<text class="p" y="102.4"><tspan x="238.5">0.00%</tspan><tspan x="478.5">0.00%</tspan><tspan x="718.5">33.50%</tspan><tspan x="958.5">33.50%</tspan></text></g>

<g id="row28" transform="translate(31,4012.3)"><use href="#grid"/>
<text class="t" y="-20.6"><tspan x="0">♩=118</tspan><tspan x="240">♩=117</tspan><tspan x="480">♩=116</tspan><tspan x="720">♩=115</tspan></text>
<text class="m" y="-7.6"><tspan x=".5">109</tspan><tspan x="240.5">110</tspan><tspan x="480.5">111</tspan><tspan x="720.5">112</tspan></text>
<text class="a" y="76.2"><tspan x="238.5">0</tspan><tspan x="478.5">0</tspan><tspan x="718.5">0</tspan><tspan x="958.5">0</tspan></text>
<text class="c" y="89.4"><tspan x="238.5">103127</tspan><tspan x="478.5">103127</tspan><tspan x="718.5">103127</tspan><tspan x="958.5">103127</tspan></text>
<text class="p" y="102.4"><tspan x="238.5">33.50%</tspan><tspan x="478.5">33.50%</tspan><tspan x="718.5">33.50%</tspan><tspan x="958.5">33.50%</tspan></text></g>

<g id="row29" transform="translate(31,4153.3)"><use href="#grid"/>
<use href="#B" x="720"/>
<text class="m" y="-7.6"><tspan x=".5">113</tspan><tspan x="240.5">114</tspan><tspan x="480.5">115</tspan><tspan x="720.5">116</tspan></text>
<text class="a" y="76.2"><tspan x="238.5">0</tspan><tspan x="478.5">0</tspan><tspan x="718.5">0</tspan><tspan x="958.5">130</tspan></text>
<text class="c" y="89.4"><tspan x="238.5">103127</tspan><tspan x="478.5">103127</tspan><tspan x="718.5">103127</tspan><tspan x="958.5">103907</tspan></text>
<text class="p" y="102.4"><tspan x="238.5">33.50%</tspan><tspan x="478.5">33.50%</tspan><tspan x="718.5">33.50%</tspan><tspan x="958.5">33.50%</tspan></text></g>

<g id="row30" transform="translate(31,4294.3)"><use href="#grid"/>
<use href="#Cs"/><use href="#D" x="240"/><use href="#A" x="480"/><use href="#B" x="720"/>
<rect class="og" width="210" height="61"/><rect class="ob" x="434" width="526" height="61"/>
<text class="m" y="-7.6"><tspan x=".5">117</tspan><tspan x="240.5">118</tspan><tspan x="480.5">119</tspan><tspan x="720.5">120</tspan></text>
<text class="a" y="76.2"><tspan x="238.5">130</tspan><tspan x="478.5">130</tspan><tspan x="718.5">130</tspan><tspan x="958.5">130</tspan></text>
<text class="c" y="89.4"><tspan x="238.5">104687</tspan><tspan x="478.5">105623</tspan><tspan x="718.5">107183</tspan><tspan x="958.5">108743</tspan></text>
<text class="p" y="102.4"><tspan x="238.5">67.00%</tspan><tspan x="478.5">64.62%</tspan><tspan x="718.5">52.12%</tspan><tspan x="958.5">39.62%</tspan></text></g>

<g id="row31" transform="translate(31,4435.3)"><rect class="bd" x="720" y="-10" width="210" height="82"/><use href="#grid"/>
<use href="#C"/><use href="#D" x="240"/><use href="#A" x="480"/><use href="#Bs" x="720"/>
<rect class="og" x="720" width="210" height="61"/><rect class="ob" width="873.4" height="61"/>
<text class="m" y="-7.6"><tspan x=".5">121</tspan><tspan x="240.5">122</tspan><tspan x="480.5">123</tspan><tspan x="720.5">124</tspan></text>
<text class="a" y="76.2"><tspan x="238.5">130</tspan><tspan x="478.5">130</tspan><tspan x="718.5">130</tspan><tspan x="958.5">130</tspan></text>
<text class="c" y="89.4"><tspan x="238.5">110453</tspan><tspan x="478.5">112013</tspan><tspan x="718.5">113423</tspan><tspan x="958.5">114779</tspan></text>
<text class="p" y="102.4"><tspan x="238.5">27.12%</tspan><tspan x="478.5">14.62%</tspan><tspan x="718.5">2.12%</tspan><tspan x="958.5">27.27%</tspan></text></g>

<g id="row32" transform="translate(31,4576.3)"><use href="#grid"/>
<use href="#C"/><use href="#D" x="240"/><use href="#A" x="480"/><use href="#B" x="720"/>
<rect class="op" x="690" width="8.4" height="61"/><rect class="ob" x="698.4" width="261.6" height="61"/>
<text class="m" y="-7.6"><tspan x=".5">125</tspan><tspan x="240.5">126</tspan><tspan x="480.5">127</tspan><tspan x="720.5">128</tspan></text>
<text class="a" y="76.2"><tspan x="238.5">130</tspan><tspan x="478.5">130</tspan><tspan x="718.5">130</tspan><tspan x="958.5">130</tspan></text>
<text class="c" y="89.4"><tspan x="238.5">115559</tspan><tspan x="478.5">116339</tspan><tspan x="718.5">117269</tspan><tspan x="958.5">118829</tspan></text>
<text class="p" y="102.4"><tspan x="238.5">27.27%</tspan><tspan x="478.5">27.27%</tspan><tspan x="718.5">26.20%</tspan><tspan x="958.5">13.70%</tspan></text></g>

<g id="row33" transform="translate(31,4717.3)"><rect class="bd" x="720" y="-10" width="210" height="82"/><use href="#grid"/>
<use href="#C"/><use href="#D" x="240"/><use href="#A" x="480"/><use href="#Bs" x="720"/>
<rect class="og" x="720" width="210" height="61"/><rect class="ob" width="830" height="61"/><rect class="op" x="830" width="10" height="61"/>
<text class="m" y="-7.6"><tspan x=".5">129</tspan><tspan x="240.5">130</tspan><tspan x="480.5">131</tspan><tspan x="720.5">132</tspan></text>
<text class="a" y="76.2"><tspan x="238.5">130</tspan><tspan x="478.5">130</tspan><tspan x="718.5">130</tspan><tspan x="958.5">130</tspan></text>
<text class="c" y="89.4"><tspan x="238.5">120389</tspan><tspan x="478.5">121949</tspan><tspan x="718.5">123509</tspan><tspan x="958.5">124829</tspan></text>
<text class="p" y="102.4"><tspan x="238.5">1.20%</tspan><tspan x="478.5">0.00%</tspan><tspan x="718.5">0.00%</tspan><tspan x="958.5">29.25%</tspan></text></g>

<g id="row34" transform="translate(31,4858.3)"><use href="#grid"/>
<use href="#C"/><use href="#D" x="240"/><use href="#A" x="480"/><use href="#B" x="720"/>
<text class="m" y="-7.6"><tspan x=".5">133</tspan><tspan x="240.5">134</tspan><tspan x="480.5">135</tspan><tspan x="720.5">136</tspan></text>
<text class="a" y="76.2"><tspan x="238.5">130</tspan><tspan x="478.5">130</tspan><tspan x="718.5">130</tspan><tspan x="958.5">130</tspan></text>
<text class="c" y="89.4"><tspan x="238.5">125609</tspan><tspan x="478.5">126389</tspan><tspan x="718.5">127169</tspan><tspan x="958.5">127949</tspan></text>
<text class="p" y="102.4"><tspan x="238.5">29.25%</tspan><tspan x="478.5">29.25%</tspan><tspan x="718.5">29.25%</tspan><tspan x="958.5">29.25%</tspan></text></g>

<g id="row35" transform="translate(31,4999.3)"><use href="#grid"/>
<use href="#C"/><use href="#D" x="240"/><use href="#A" x="480"/><use href="#B" x="720"/>
<rect class="op" x="810" width="11.4" height="61"/><rect class="ob" x="821.4" width="138.6" height="61"/>
<text class="m" y="-7.6"><tspan x=".5">137</tspan><tspan x="240.5">138</tspan><tspan x="480.5">139</tspan><tspan x="720.5">140</tspan></text>
<text class="a" y="76.2"><tspan x="238.5">130</tspan><tspan x="478.5">130</tspan><tspan x="718.5">130</tspan><tspan x="958.5">130</tspan></text>
<text class="c" y="89.4"><tspan x="238.5">128729</tspan><tspan x="478.5">129509</tspan><tspan x="718.5">130289</tspan><tspan x="958.5">131609</tspan></text>
<text class="p" y="102.4"><tspan x="238.5">29.25%</tspan><tspan x="478.5">29.25%</tspan><tspan x="718.5">29.25%</tspan><tspan x="958.5">22.02%</tspan></text></g>

<g id="row36" transform="translate(31,5140.3)"><use href="#grid"/>
<use href="#C"/><use href="#D" x="240"/><use href="#A" x="480"/>
<rect class="y" x="720" y="26.5" width="238" height="7"/><rect class="b" x="720" y="41.5" width="238" height="7"/><rect class="o" x="720" y="57" width="238" height="7"/>
<circle class="y" cx="720" cy="30" r="5"/><circle class="b" cx="720" cy="45" r="5"/><circle class="o" cx="720" cy="60.5" r="5"/>
<rect class="ob" width="902.4" height="61"/>
<text class="m" y="-7.6"><tspan x=".5">141</tspan><tspan x="240.5">142</tspan><tspan x="480.5">143</tspan><tspan x="720.5">144</tspan></text>
<text class="a" y="76.2"><tspan x="238.5">130</tspan><tspan x="478.5">130</tspan><tspan x="718.5">130</tspan><tspan x="958.5">219</tspan></text>
<text class="c" y="89.4"><tspan x="238.5">133169</tspan><tspan x="478.5">134729</tspan><tspan x="718.5">136289</tspan><tspan x="958.5">138713</tspan></text>
<text class="p" y="102.4"><tspan x="238.5">9.52%</tspan><tspan x="478.5">0.00%</tspan><tspan x="718.5">0.00%</tspan><tspan x="958.5">0.00%</tspan></text></g>
</g>
</svg>
